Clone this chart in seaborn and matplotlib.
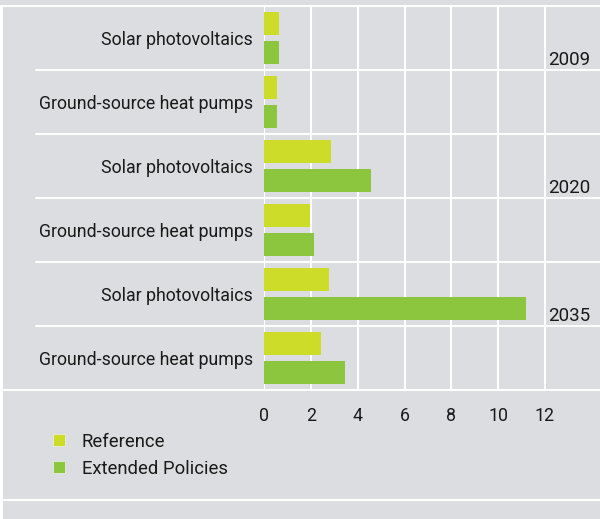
import matplotlib
matplotlib.use("Agg")
import matplotlib.pyplot as plt
import matplotlib.transforms as mtransforms
from matplotlib.lines import Line2D
import seaborn as sns
import pandas as pd

# ---- data ----
technologies = ["Solar photovoltaics", "Ground-source heat pumps"] * 3
years = ["2009", "2009", "2020", "2020", "2035", "2035"]
reference = [0.64, 0.56, 2.86, 1.97, 2.78, 2.44]
extended = [0.64, 0.56, 4.57, 2.14, 11.2, 3.46]
series_names = ["Reference", "Extended Policies"]
year_labels = ["2009", "2020", "2035"]
xticks = [0, 2, 4, 6, 8, 10, 12]

BG = "#dcdde0"
C_REF = "#cddc29"
C_EXT = "#8cc63f"
TXT = "#1a1a1a"

rows = [f"{y}|{t}" for y, t in zip(years, technologies)]
df = pd.DataFrame({
    "row": rows * 2,
    "value": reference + extended,
    "series": [series_names[0]] * 6 + [series_names[1]] * 6,
})

sns.set_theme(style="white")
plt.rcParams["font.family"] = ["Roboto", "DejaVu Sans"]

W, H = 600, 519
fig = plt.figure(figsize=(W / 100, H / 100), dpi=100)
fig.patch.set_facecolor(BG)

ax = fig.add_axes([264 / W, (H - 390) / H, 336 / W, 384 / H])
ax.set_facecolor(BG)

sns.barplot(data=df, y="row", x="value", hue="series", order=rows,
            hue_order=series_names, palette=[C_REF, C_EXT], orient="h",
            width=0.9, gap=0.2, ax=ax, legend=False, saturation=1,
            errorbar=None, zorder=3, linewidth=0)

xmax = 336 / ((545 - 264) / 12)
ax.set_xlim(0, xmax)
ax.set_ylim(5.5, -0.5)
for s in ax.spines.values():
    s.set_visible(False)

ax.set_xticks(xticks)
ax.set_xticklabels([str(v) for v in xticks], fontsize=12.8, color=TXT)
ax.set_yticks(range(6))
ax.set_yticklabels(technologies, fontsize=12.8, color=TXT)
ax.tick_params(axis="x", length=0, pad=12)
ax.tick_params(axis="y", length=0, pad=8)
ax.set_xlabel("")
ax.set_ylabel("")

for v in xticks:
    ax.axvline(v, color="white", lw=1.5, zorder=1)

# row separators extending into label area
trans = mtransforms.blended_transform_factory(ax.transAxes, ax.transData)
x0 = (36 - 264) / 336
for yy in [0.5, 1.5, 2.5, 3.5, 4.5]:
    ax.plot([x0, 1], [yy, yy], color="white", lw=1.5, transform=trans,
            clip_on=False, zorder=2)

# year labels
for i, yl in enumerate(year_labels):
    ax.text((548 - 264) / 336, 2 * i + 0.35, yl, transform=trans,
            fontsize=13.5, color=TXT, ha="left", va="center")

# full-width frame lines
for ypx in [6, 390, 500]:
    fig.add_artist(Line2D([0, 1], [1 - ypx / H, 1 - ypx / H], color="white",
                          lw=1.5, transform=fig.transFigure))
fig.add_artist(plt.Rectangle((0, 0), 3 / W, 1 - 6 / H, color="white",
                             transform=fig.transFigure, lw=0))

# legend
handles = [Line2D([], [], marker="s", ls="", markersize=8.5,
                  markerfacecolor=c, markeredgecolor="#f0f0f0", markeredgewidth=0.5)
           for c in [C_REF, C_EXT]]
fig.legend(handles, series_names, loc="upper left",
           bbox_to_anchor=(33 / W, 1 - 416 / H), frameon=False,
           fontsize=13.3, handletextpad=0.75, labelspacing=0.5,
           handlelength=1.0, labelcolor=TXT)

fig.savefig("out.png", dpi=100, facecolor=BG)
